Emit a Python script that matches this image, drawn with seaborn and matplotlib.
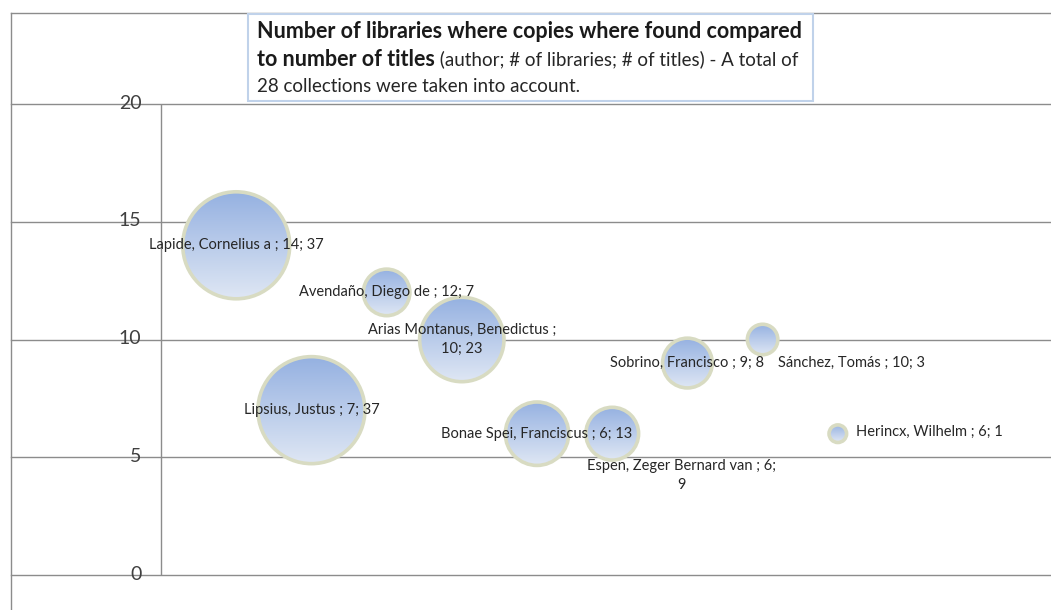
import numpy as np
import pandas as pd
import matplotlib.pyplot as plt
import seaborn as sns
from matplotlib.patches import Ellipse, Rectangle
from matplotlib.lines import Line2D
from matplotlib.text import Annotation
from matplotlib.transforms import ScaledTranslation
from matplotlib.colors import LinearSegmentedColormap

authors = ['Lapide, Cornelius a', 'Lipsius, Justus', 'Avendaño, Diego de',
           'Arias Montanus, Benedictus', 'Bonae Spei, Franciscus',
           'Espen, Zeger Bernard van', 'Sobrino, Francisco', 'Sánchez, Tomás',
           'Herincx, Wilhelm']
libraries = [14, 7, 12, 10, 6, 6, 9, 10, 6]
titles = [37, 37, 7, 23, 13, 9, 8, 3, 1]
position = [1, 2, 3, 4, 5, 6, 7, 8, 9]
yticks = [0, 5, 10, 15, 20]

data = pd.DataFrame({'author': authors, 'libraries': libraries,
                     'titles': titles, 'pos': position})

# label placement (offset in points, alignment), Excel-style hand tweaks
label_style = {
    'Arias Montanus, Benedictus': dict(off=(0, 0), ha='center', brk=True),
    'Espen, Zeger Bernard van': dict(off=(50, -30), ha='center', brk=True),
    'Sánchez, Tomás': dict(off=(11, -17), ha='left', brk=False),
    'Herincx, Wilhelm': dict(off=(13, 1), ha='left', brk=False),
}

plt.rcParams['font.family'] = ['Lato', 'DejaVu Sans']

W, H = 1051, 610
fig = plt.figure(figsize=(W / 100, H / 100), dpi=100)
ax = fig.add_axes([11 / W, (H - 575) / H, 1 - 11 / W, (575 - 104) / H])
ax.set_xlim(-1.995, 11.835)
ax.set_ylim(0, 20)
for s in ax.spines.values():
    s.set_visible(False)
ax.set_xticks([])
ax.set_yticks(yticks)
ax.tick_params(axis='y', length=0, pad=-94, labelsize=14, labelcolor='#404040')
ax.grid(axis='y', color='#8c8c8c', lw=1)
for gl in ax.get_ygridlines():
    gl.set_clip_on(False)
ax.set_axisbelow(True)
ax.axvline(0, color='#8c8c8c', lw=1, zorder=1)
for lbl in ax.get_yticklabels():
    lbl.set_transform(lbl.get_transform() + ScaledTranslation(0, 1.8 / 72, fig.dpi_scale_trans))

# bubble size: area proportional to number of titles
r37 = 53.5 * 0.72
sns.scatterplot(data=data, x='pos', y='libraries', size='titles',
                sizes=(0, (2 * r37) ** 2), size_norm=(0, 37),
                facecolor='none', edgecolor='#d8dbc2', linewidth=2.6,
                legend=False, ax=ax, zorder=4)
ax.set_xlabel('')
ax.set_ylabel('')

# vertical gradient inside each bubble
cmap = LinearSegmentedColormap.from_list('bub', ['#95b1e1', '#dfe7f4'])
grad = np.linspace(0, 1, 256).reshape(-1, 1)
px_x = (ax.get_xlim()[1] - ax.get_xlim()[0]) / (W - 11)
px_y = 20 / (575 - 104)
for _, row in data.iterrows():
    r_px = np.sqrt((2 * r37) ** 2 * row['titles'] / 37) / 2 / 0.72
    rx, ry = r_px * px_x, r_px * px_y
    cx, cy = row['pos'], row['libraries']
    im = ax.imshow(grad, cmap=cmap, aspect='auto', zorder=3,
                   extent=(cx - rx, cx + rx, cy - ry, cy + ry))
    clip = Ellipse((cx, cy), 2 * rx, 2 * ry, transform=ax.transData)
    im.set_clip_path(clip)
ax.set_xlim(-1.995, 11.835)
ax.set_ylim(0, 20)

for _, row in data.iterrows():
    st = label_style.get(row['author'], dict(off=(0, 0), ha='center', brk=False))
    if row['author'].startswith('Arias'):
        txt = f"{row['author']} ;\n{row['libraries']}; {row['titles']}"
    elif st['brk']:
        txt = f"{row['author']} ; {row['libraries']};\n{row['titles']}"
    else:
        txt = f"{row['author']} ; {row['libraries']}; {row['titles']}"
    ax.annotate(txt, (row['pos'], row['libraries']), xytext=st['off'],
                textcoords='offset points', ha=st['ha'], va='center',
                fontsize=10.5, color='#262626', zorder=5, linespacing=1.5)

# outer chart frame (top and left)
fig.add_artist(Line2D([11 / W, 1], [1 - 13 / H, 1 - 13 / H], color='#8c8c8c', lw=1))
fig.add_artist(Line2D([11 / W, 11 / W], [0, 1 - 13 / H], color='#8c8c8c', lw=1))

# title box
fig.add_artist(Rectangle((248 / W, 1 - 101 / H), (813 - 248) / W, 87 / H,
                         facecolor='white', edgecolor='#c0d2ea', lw=1.5,
                         transform=fig.transFigure, zorder=6))
t1 = fig.text(257 / W, 1 - 31 / H,
              'Number of libraries where copies where found compared',
              fontsize=15.5, fontweight='bold', color='#1a1a1a', va='center', zorder=7)
t2 = fig.text(257 / W, 1 - 59 / H, 'to number of titles',
              fontsize=15.5, fontweight='bold', color='#1a1a1a', va='center', zorder=7)
fig.add_artist(Annotation(' (author; # of libraries; # of titles) - A total of',
                          xy=(1, 0.5), xycoords=t2, va='center', ha='left',
                          fontsize=13.5, color='#262626', zorder=7))
fig.text(257 / W, 1 - 87 / H, '28 collections were taken into account.',
         fontsize=13.5, color='#262626', va='center', zorder=7)

fig.savefig('out.png', dpi=100)
